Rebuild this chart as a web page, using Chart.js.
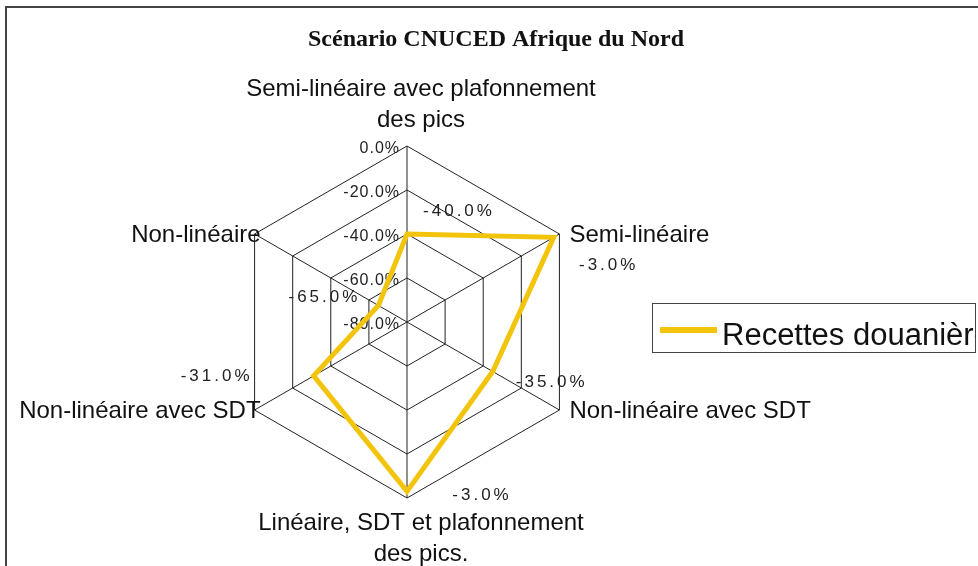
<!DOCTYPE html>
<html>
<head>
<meta charset="utf-8">
<script src="https://cdn.jsdelivr.net/npm/chart.js@4.4.1/dist/chart.umd.min.js"></script>
<style>
body { margin: 0; background: #fff; }
</style>
</head>
<body>
<canvas id="radarChart" width="978" height="566"></canvas>
<script>
// chart data
var chartTitle = "Scénario CNUCED Afrique du Nord";
var categories = [
  ["Semi-linéaire avec plafonnement", "des pics"],
  "Semi-linéaire",
  "Non-linéaire avec SDT",
  ["Linéaire, SDT et plafonnement", "des pics."],
  "Non-linéaire avec SDT",
  "Non-linéaire"
];
var seriesName = "Recettes douanières";
var recettes = [-40, -3, -35, -3, -31, -65];
var scaleMin = -80;
var scaleMax = 0;
var scaleStep = 20;

var yellow = '#f2c40c';

function pct(v) {
  return v.toFixed(1) + '%';
}

// where excel put the data labels, relative to the point
var labelShift = [[50, -23], [53, 28], [57, 11], [73, 4], [-99, 0], [-56, -8]];

var decor = {
  id: 'decor',
  beforeDatasetsDraw: function(chart) {
    var ctx = chart.ctx;
    var r = chart.scales.r;
    ctx.save();
    // frame
    ctx.fillStyle = '#444';
    ctx.fillRect(5, 6, 2, 600);
    ctx.fillRect(5, 6, 1000, 2);

    // title
    ctx.fillStyle = '#111';
    ctx.font = 'bold 24px "Liberation Serif"';
    ctx.textAlign = 'center';
    ctx.textBaseline = 'alphabetic';
    ctx.fillText(chartTitle, 496, 46);

    // tick labels, left of the vertical axis
    ctx.font = '16px "Liberation Sans"';
    ctx.letterSpacing = '1px';
    ctx.textAlign = 'right';
    ctx.textBaseline = 'middle';
    ctx.fillStyle = '#222';
    r.ticks.forEach(function(t) {
      var y = r.yCenter - r.getDistanceFromCenterForValue(t.value);
      ctx.fillText(pct(t.value), r.xCenter - 7, y + 3);
    });
    ctx.letterSpacing = '0px';

    // category labels
    ctx.font = '24px "Liberation Sans"';
    ctx.fillStyle = '#111';
    for (var i = 0; i < categories.length; i++) {
      var p = r.getPointPosition(i, r.drawingArea);
      var lines = [].concat(categories[i]);
      var lh = 31;
      if (Math.abs(p.x - r.xCenter) < 2) {
        ctx.textAlign = 'center';
        var y0;
        if (p.y < r.yCenter) {
          y0 = p.y - 26 - (lines.length - 1) * lh;
        } else {
          y0 = p.y + 25;
        }
        for (var k = 0; k < lines.length; k++) {
          ctx.fillText(lines[k], p.x + 14, y0 + k * lh);
        }
      } else if (p.x > r.xCenter) {
        ctx.textAlign = 'left';
        ctx.fillText(lines[0], p.x + 10, p.y + 1);
      } else {
        ctx.textAlign = 'right';
        ctx.fillText(lines[0], p.x + 6, p.y + 1);
      }
    }
    ctx.restore();
  },
  afterDatasetsDraw: function(chart) {
    var ctx = chart.ctx;
    var meta = chart.getDatasetMeta(0);
    ctx.save();
    // data labels
    ctx.font = '17px "Liberation Sans"';
    ctx.letterSpacing = '3px';
    ctx.textAlign = 'center';
    ctx.textBaseline = 'middle';
    ctx.fillStyle = '#222';
    meta.data.forEach(function(pt, i) {
      ctx.fillText(pct(recettes[i]), pt.x + labelShift[i][0] + 2, pt.y + labelShift[i][1]);
    });
    ctx.letterSpacing = '0px';

    // legend box
    var bx = 652, by = 303, bw = 323, bh = 49;
    ctx.fillStyle = '#fff';
    ctx.fillRect(bx, by, bw, bh);
    ctx.strokeStyle = '#444';
    ctx.lineWidth = 1;
    ctx.strokeRect(bx + 0.5, by + 0.5, bw, bh);
    ctx.strokeStyle = chart.data.datasets[0].borderColor;
    ctx.lineWidth = 6;
    ctx.beginPath();
    ctx.moveTo(660, 330);
    ctx.lineTo(717, 330);
    ctx.stroke();
    ctx.beginPath();
    ctx.rect(bx + 1, by + 1, bw - 1, bh - 1);
    ctx.clip();
    ctx.fillStyle = '#111';
    ctx.font = '31px "Liberation Sans"';
    ctx.textAlign = 'left';
    ctx.textBaseline = 'alphabetic';
    ctx.fillText(chart.data.datasets[0].label, 722, 345);
    ctx.restore();
  }
};

var ctxR = document.getElementById('radarChart').getContext('2d');
var myRadar = new Chart(ctxR, {
  type: 'radar',
  data: {
    labels: categories,
    datasets: [{
      label: seriesName,
      data: recettes,
      borderColor: yellow,
      borderWidth: 5,
      borderJoinStyle: 'miter',
      fill: false,
      pointRadius: 0,
      tension: 0
    }]
  },
  options: {
    responsive: false,
    animation: false,
    layout: {
      padding: { left: 231, right: 395, top: 146, bottom: 68 }
    },
    scales: {
      r: {
        min: scaleMin,
        max: scaleMax,
        ticks: { stepSize: scaleStep, display: false },
        pointLabels: { display: false },
        grid: { color: '#222', lineWidth: 1 },
        angleLines: { color: '#222', lineWidth: 1 }
      }
    },
    plugins: {
      legend: { display: false },
      title: { display: false },
      tooltip: { enabled: false }
    }
  },
  plugins: [decor]
});
</script>
</body>
</html>
